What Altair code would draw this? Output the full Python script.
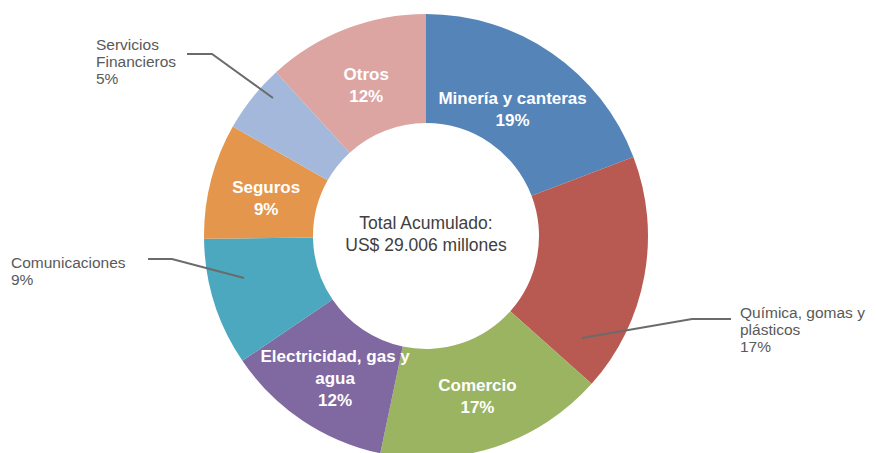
import altair as alt
import pandas as pd

# ---- data ----
sectors = ["Minería y canteras", "Química, gomas y plásticos", "Comercio",
           "Electricidad, gas y agua", "Comunicaciones", "Seguros",
           "Servicios Financieros", "Otros"]
shares = [19.2, 17.4, 16.7, 12.2, 9.3, 8.4, 5.0, 11.8]
pct_labels = ["19%", "17%", "17%", "12%", "9%", "9%", "5%", "12%"]
colors = ["#5584B9", "#B85A51", "#9BB461", "#8068A1", "#4BA8BF",
          "#E5964D", "#A3B8DA", "#DDA5A2"]
inside_text = ["Minería y canteras\n19%", "", "Comercio\n17%",
               "Electricidad, gas y\nagua\n12%", "", "Seguros\n9%", "", "Otros\n12%"]
outside_text = ["Servicios\nFinancieros\n5%", "Comunicaciones\n9%",
                "Química, gomas y\nplásticos\n17%"]
center_text = "Total Acumulado:\nUS$ 29.006 millones"

df = pd.DataFrame({"sector": sectors, "value": shares, "idx": list(range(len(sectors))),
                   "pct": pct_labels, "inside": inside_text})

CX, CY = 418, 228  # donut centre in chart coordinates

color = alt.Color("sector:N", scale=alt.Scale(domain=sectors, range=colors), legend=None)
theta = alt.Theta("value:Q", stack=True)
order = alt.Order("idx:Q", sort="ascending")

base = alt.Chart(df)

arcs = base.mark_arc(outerRadius=222, innerRadius=113).encode(
    theta=theta, color=color, order=order, x=alt.value(CX), y=alt.value(CY)
)

lbl_kwargs = dict(radius=165, fontSize=17, fontWeight="bold", color="white",
                  font="Liberation Sans", lineBreak="\n", lineHeight=22,
                  align="center", baseline="middle")


def inside_layer(expr, dx, dy):
    return base.transform_calculate(t=expr).mark_text(dx=dx, dy=dy, **lbl_kwargs).encode(
        theta=theta, order=order, text="t:N", x=alt.value(CX), y=alt.value(CY)
    )


inside_main = inside_layer("(datum.idx == 0 || datum.idx == 3) ? '' : datum.inside", 0, -7)
inside_min = inside_layer("datum.idx == 0 ? datum.inside : ''", -7, -1)
inside_ele = inside_layer("datum.idx == 3 ? datum.inside : ''", 1, -16)

# outside labels (annotation layout)
out_df = pd.DataFrame({"text": outside_text, "x": [88, 3, 732], "y": [30, 248, 298]})
outside = alt.Chart(out_df).mark_text(
    align="left", baseline="top", fontSize=15.5, font="Liberation Sans",
    color="#595959", lineBreak="\n", lineHeight=17
).encode(x=alt.X("x:Q", scale=None), y=alt.Y("y:Q", scale=None), text="text:N")

# leader lines
lead_df = pd.DataFrame({
    "g": ["a", "a", "a", "b", "b", "b", "c", "c", "c"],
    "o": [0, 1, 2, 0, 1, 2, 0, 1, 2],
    "x": [179, 204, 265, 140, 164, 236, 723, 684, 574],
    "y": [46, 46, 90, 251, 251, 270, 311, 311, 330],
})
leaders = alt.Chart(lead_df).mark_line(color="#6B6B6B", strokeWidth=2).encode(
    x=alt.X("x:Q", scale=None), y=alt.Y("y:Q", scale=None),
    detail="g:N", order="o:Q"
)

center = alt.Chart(pd.DataFrame({"t": [center_text]})).mark_text(
    fontSize=17.5, font="Liberation Sans", color="#404040", lineBreak="\n",
    lineHeight=22, align="center", baseline="middle", dy=-12
).encode(text="t:N", x=alt.value(CX), y=alt.value(CY))

chart = alt.layer(arcs, inside_main, inside_min, inside_ele, leaders, outside, center).properties(
    width=860, height=445, padding=0, autosize=alt.AutoSizeParams(type="none")
).configure_view(stroke=None)

chart.save("out.html", embed_options={"renderer": "svg", "actions": False})
